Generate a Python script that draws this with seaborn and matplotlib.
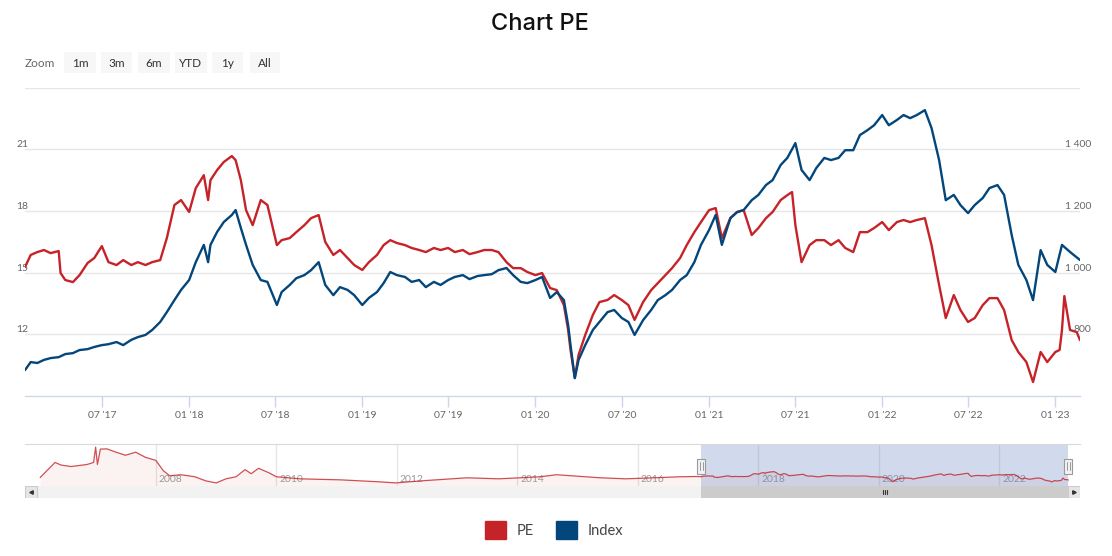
import matplotlib
matplotlib.use("Agg")
import pandas as pd
import seaborn as sns
import matplotlib.pyplot as plt
import matplotlib.dates as mdates
from matplotlib.patches import Rectangle, Patch
from matplotlib.transforms import blended_transform_factory

RED = "#c62329"
BLUE = "#03467b"

# Index (right axis)
index_dates = [
    "2017-01-20", "2017-02-01", "2017-02-15", "2017-03-01", "2017-03-15", "2017-04-01", "2017-04-15",
    "2017-05-01", "2017-05-15", "2017-06-01", "2017-06-15", "2017-07-01", "2017-07-15", "2017-08-01",
    "2017-08-15", "2017-09-01", "2017-09-15", "2017-10-01", "2017-10-15", "2017-11-01", "2017-11-15",
    "2017-12-01", "2017-12-15", "2018-01-01", "2018-01-15", "2018-02-01", "2018-02-10", "2018-02-15",
    "2018-03-01", "2018-03-15", "2018-04-01", "2018-04-09", "2018-04-20", "2018-05-01", "2018-05-15",
    "2018-06-01", "2018-06-15", "2018-07-05", "2018-07-15", "2018-08-01", "2018-08-15", "2018-09-01",
    "2018-09-15", "2018-10-01", "2018-10-15", "2018-11-01", "2018-11-15", "2018-12-01", "2018-12-15",
    "2019-01-01", "2019-01-15", "2019-02-01", "2019-02-15", "2019-03-01", "2019-03-15", "2019-04-01",
    "2019-04-15", "2019-05-01", "2019-05-15", "2019-06-01", "2019-06-15", "2019-07-01", "2019-07-15",
    "2019-08-01", "2019-08-15", "2019-09-01", "2019-09-15", "2019-10-01", "2019-10-15", "2019-11-01",
    "2019-11-15", "2019-12-01", "2019-12-15", "2020-01-01", "2020-01-15", "2020-02-01", "2020-02-15",
    "2020-03-01", "2020-03-10", "2020-03-15", "2020-03-24", "2020-04-01", "2020-04-15", "2020-05-01",
    "2020-05-15", "2020-06-01", "2020-06-15", "2020-07-01", "2020-07-15", "2020-07-28", "2020-08-15",
    "2020-09-01", "2020-09-15", "2020-10-01", "2020-10-15", "2020-11-01", "2020-11-15", "2020-12-01",
    "2020-12-15", "2021-01-01", "2021-01-15", "2021-01-28", "2021-02-15", "2021-03-01", "2021-03-15",
    "2021-04-01", "2021-04-15", "2021-05-01", "2021-05-15", "2021-06-01", "2021-06-15", "2021-07-02",
    "2021-07-15", "2021-08-01", "2021-08-15", "2021-09-01", "2021-09-15", "2021-10-01", "2021-10-15",
    "2021-11-01", "2021-11-15", "2021-12-01", "2021-12-15", "2022-01-01", "2022-01-15", "2022-02-01",
    "2022-02-15", "2022-03-01", "2022-03-15", "2022-04-01", "2022-04-15", "2022-05-01", "2022-05-15",
    "2022-06-01", "2022-06-15", "2022-07-01", "2022-07-15", "2022-08-01", "2022-08-15", "2022-09-01",
    "2022-09-15", "2022-10-01", "2022-10-15", "2022-11-01", "2022-11-15", "2022-12-01", "2022-12-15",
    "2023-01-01", "2023-01-15", "2023-02-01", "2023-02-22",
]
index_values = [
    684, 710, 707, 717, 723, 726, 736, 739, 749, 752, 759, 765, 768, 775,
    765, 782, 791, 798, 814, 840, 872, 911, 944, 976, 1034, 1090, 1034, 1090,
    1132, 1164, 1187, 1203, 1145, 1090, 1025, 976, 970, 895, 937, 960, 982, 992,
    1008, 1034, 960, 927, 953, 944, 927, 895, 918, 937, 966, 1002, 992, 986,
    970, 976, 953, 970, 960, 976, 986, 992, 979, 989, 992, 995, 1008, 1015,
    992, 970, 966, 976, 986, 918, 937, 911, 830, 765, 658, 717, 765, 814,
    840, 872, 879, 853, 840, 798, 846, 879, 911, 927, 944, 976, 992, 1034,
    1090, 1138, 1187, 1090, 1177, 1196, 1203, 1235, 1252, 1284, 1300, 1349, 1372, 1420,
    1333, 1300, 1339, 1372, 1365, 1372, 1397, 1397, 1446, 1462, 1478, 1511, 1478, 1495,
    1511, 1501, 1511, 1527, 1469, 1365, 1235, 1252, 1219, 1193, 1219, 1242, 1274, 1284,
    1252, 1122, 1025, 976, 911, 1073, 1025, 1002, 1090, 1067, 1041,
]

# PE (left axis)
pe_dates = [
    "2017-01-20", "2017-02-01", "2017-02-15", "2017-03-01", "2017-03-15", "2017-04-01", "2017-04-05",
    "2017-04-15", "2017-05-01", "2017-05-15", "2017-06-01", "2017-06-15", "2017-07-01", "2017-07-15",
    "2017-08-01", "2017-08-15", "2017-09-01", "2017-09-15", "2017-10-01", "2017-10-15", "2017-11-01",
    "2017-11-15", "2017-12-01", "2017-12-15", "2018-01-01", "2018-01-15", "2018-02-01", "2018-02-10",
    "2018-02-15", "2018-03-01", "2018-03-15", "2018-04-01", "2018-04-09", "2018-04-20", "2018-05-01",
    "2018-05-15", "2018-06-01", "2018-06-15", "2018-07-05", "2018-07-15", "2018-08-01", "2018-08-15",
    "2018-09-01", "2018-09-15", "2018-10-01", "2018-10-15", "2018-11-01", "2018-11-15", "2018-12-01",
    "2018-12-15", "2019-01-01", "2019-01-15", "2019-02-01", "2019-02-15", "2019-03-01", "2019-03-15",
    "2019-04-01", "2019-04-15", "2019-05-01", "2019-05-15", "2019-06-01", "2019-06-15", "2019-07-01",
    "2019-07-15", "2019-08-01", "2019-08-15", "2019-09-01", "2019-09-15", "2019-10-01", "2019-10-15",
    "2019-11-01", "2019-11-15", "2019-12-01", "2019-12-15", "2020-01-01", "2020-01-15", "2020-02-01",
    "2020-02-15", "2020-03-01", "2020-03-10", "2020-03-15", "2020-03-24", "2020-04-01", "2020-04-15",
    "2020-05-01", "2020-05-15", "2020-06-01", "2020-06-15", "2020-07-01", "2020-07-15", "2020-07-28",
    "2020-08-15", "2020-09-01", "2020-09-15", "2020-10-01", "2020-10-15", "2020-11-01", "2020-11-15",
    "2020-12-01", "2020-12-15", "2021-01-01", "2021-01-15", "2021-01-28", "2021-02-15", "2021-03-01",
    "2021-03-15", "2021-04-01", "2021-04-15", "2021-05-01", "2021-05-15", "2021-06-01", "2021-06-15",
    "2021-06-25", "2021-07-02", "2021-07-15", "2021-08-01", "2021-08-15", "2021-09-01", "2021-09-15",
    "2021-10-01", "2021-10-15", "2021-11-01", "2021-11-15", "2021-12-01", "2021-12-15", "2022-01-01",
    "2022-01-15", "2022-02-01", "2022-02-15", "2022-03-01", "2022-03-15", "2022-04-01", "2022-04-15",
    "2022-05-01", "2022-05-15", "2022-06-01", "2022-06-15", "2022-07-01", "2022-07-15", "2022-08-01",
    "2022-08-15", "2022-09-01", "2022-09-15", "2022-10-01", "2022-10-15", "2022-11-01", "2022-11-15",
    "2022-12-01", "2022-12-15", "2023-01-01", "2023-01-10", "2023-01-15", "2023-01-20", "2023-02-01",
    "2023-02-15", "2023-02-22",
]
pe_values = [
    15.27, 15.86, 16.00, 16.10, 15.95, 16.05, 14.98, 14.64, 14.54, 14.88, 15.47, 15.71, 16.29, 15.51,
    15.37, 15.61, 15.37, 15.51, 15.37, 15.51, 15.61, 16.68, 18.29, 18.53, 17.95, 19.11, 19.74, 18.53,
    19.50, 19.99, 20.38, 20.67, 20.47, 19.50, 18.04, 17.31, 18.53, 18.29, 16.34, 16.58, 16.68, 16.97,
    17.31, 17.65, 17.80, 16.49, 15.86, 16.10, 15.71, 15.37, 15.13, 15.51, 15.86, 16.34, 16.58, 16.44,
    16.34, 16.20, 16.10, 16.00, 16.20, 16.10, 16.20, 16.00, 16.10, 15.90, 16.00, 16.10, 16.10, 16.00,
    15.51, 15.22, 15.22, 15.03, 14.88, 14.98, 14.25, 14.15, 13.42, 12.21, 11.24, 9.88, 11.00, 11.97,
    12.94, 13.57, 13.67, 13.91, 13.67, 13.42, 12.70, 13.57, 14.15, 14.49, 14.88, 15.22, 15.71, 16.34,
    16.97, 17.46, 18.04, 18.14, 16.68, 17.65, 17.95, 18.04, 16.83, 17.17, 17.65, 17.95, 18.53, 18.77,
    18.92, 17.31, 15.51, 16.34, 16.58, 16.58, 16.34, 16.58, 16.20, 16.00, 16.97, 16.97, 17.17, 17.46,
    17.07, 17.46, 17.56, 17.46, 17.56, 17.65, 16.34, 14.40, 12.79, 13.91, 13.18, 12.60, 12.79, 13.42,
    13.76, 13.76, 13.18, 11.72, 11.14, 10.65, 9.68, 11.14, 10.65, 11.14, 11.24, 12.21, 13.86, 12.21,
    12.11, 11.72,
]

# longer PE history, only shown in the navigator
hist_pe_dates = [
    "2006-01-30", "2006-04-30", "2006-06-05", "2006-08-05", "2006-11-10", "2006-12-20", "2007-01-01",
    "2007-01-12", "2007-01-30", "2007-03-10", "2007-05-05", "2007-07-01", "2007-09-01", "2007-10-30",
    "2008-01-01", "2008-02-15", "2008-03-25", "2008-06-01", "2008-08-25", "2008-10-30", "2009-01-01",
    "2009-03-01", "2009-05-01", "2009-06-25", "2009-08-01", "2009-09-15", "2009-11-15", "2010-01-01",
    "2010-05-25", "2011-01-25", "2011-09-25", "2011-12-25", "2012-05-25", "2013-03-01", "2013-09-10",
    "2014-05-20", "2014-08-25", "2015-05-20", "2015-10-20", "2016-09-10", "2016-12-20",
]
hist_pe_values = [
    14.4, 30.6, 27.8, 26.2, 28.4, 30.6, 47.0, 28.4, 44.9, 45.2, 41.6, 38.3, 41.6, 36.1,
    32.8, 21.8, 16.3, 17.4, 15.2, 10.8, 8.6, 13.0, 15.2, 22.9, 18.5, 24.3, 19.6, 15.2,
    13.0, 11.9, 9.7, 8.6, 10.8, 14.1, 13.0, 15.2, 17.4, 14.1, 13.0, 15.2, 15.5,
]

pe_ticks = [12, 15, 18, 21, 24]
index_ticks = [800, 1000, 1200, 1400, 1600]
nav_years = [2008, 2010, 2012, 2014, 2016, 2018, 2020, 2022]
zoom_buttons = ["1m", "3m", "6m", "YTD", "1y", "All"]

pe_df = pd.DataFrame({"date": pd.to_datetime(pe_dates), "PE": pe_values})
idx_df = pd.DataFrame({"date": pd.to_datetime(index_dates), "Index": index_values})
nav_df = pd.DataFrame({"date": pd.to_datetime(hist_pe_dates + pe_dates),
                       "PE": hist_pe_values + pe_values})

sns.set_style("white")
plt.rcParams["font.family"] = ["Lato", "DejaVu Sans"]

W, H = 1112, 556
fig = plt.figure(figsize=(W / 100, H / 100), dpi=100)


def box(x0, y0, x1, y1):
    # pixel box (top-left origin) -> figure fraction
    return [x0 / W, 1 - y1 / H, (x1 - x0) / W, (y1 - y0) / H]


start, end = pe_df["date"].iloc[0], pe_df["date"].iloc[-1]

# ---- main chart ----
ax = fig.add_axes(box(25, 87.6, 1080, 396))
ax2 = ax.twinx()
sns.lineplot(data=pe_df, x="date", y="PE", ax=ax, color=RED, linewidth=1.7, zorder=3)
sns.lineplot(data=idx_df, x="date", y="Index", ax=ax2, color=BLUE, linewidth=1.7, zorder=3)
ax.set_ylim(9, 24)
ax2.set_ylim(600, 1600)
ax.set_xlim(start, end)
for a in (ax, ax2):
    a.set_xlabel("")
    a.set_ylabel("")
    a.set_yticks([])
    for s in ("left", "right", "top"):
        a.spines[s].set_visible(False)
    a.spines["bottom"].set_color("#ccd6eb")
for v in pe_ticks:
    ax.axhline(v, color="#e6e6e6", linewidth=1, zorder=0)

lt = blended_transform_factory(ax.transAxes, ax.transData)
rt = blended_transform_factory(ax.transAxes, ax2.transData)
for v in pe_ticks[:-1]:
    ax.text(-9 / 1055, v, f"{v}", transform=lt, ha="left", va="bottom", fontsize=7.5,
            color="#666666", zorder=1, clip_on=False)
for v in index_ticks[:-1]:
    ax.text(1 + 11 / 1055, v, f"{v:,}".replace(",", " "), transform=rt, ha="right",
            va="bottom", fontsize=7.5, color="#666666", zorder=1, clip_on=False)

ax.xaxis.set_major_locator(mdates.MonthLocator(bymonth=[1, 7]))
ax.xaxis.set_major_formatter(mdates.DateFormatter("%m '%y"))
ax.tick_params(axis="x", direction="out", length=8, width=1, color="#ccd6eb",
               labelsize=7.5, labelcolor="#666666", pad=2.5, bottom=True)
ax2.tick_params(axis="x", bottom=False, labelbottom=False)

# ---- title and range selector ----
fig.text(540 / W, 1 - 24 / H, "Chart PE", ha="center", va="center", fontsize=17,
         family=["Inter", "DejaVu Sans"], weight="medium", color="#111111")
fig.text(25 / W, 1 - 63.5 / H, "Zoom", ha="left", va="center", fontsize=8.5, color="#666666")
btn_x = [64, 101, 138, 175, 212, 250]
btn_w = [32, 31, 32, 32, 31, 30]
for label, bx, bw in zip(zoom_buttons, btn_x, btn_w):
    fig.patches.append(Rectangle((bx / W, 1 - 73 / H), bw / W, 21 / H, transform=fig.transFigure,
                                 facecolor="#f7f7f7", edgecolor="none"))
    fig.text((bx + bw / 2) / W, 1 - 63.5 / H, label, ha="center", va="center",
             fontsize=8.5, color="#333333")

# ---- navigator ----
nav = fig.add_axes(box(25, 444, 1080, 486))
nav_lo, nav_hi = 5.3, 50.4
nav.fill_between(nav_df["date"], nav_df["PE"], nav_lo, color=RED, alpha=0.06, lw=0)
sns.lineplot(data=nav_df, x="date", y="PE", ax=nav, color=RED, linewidth=0.9, alpha=0.8, zorder=3)
nav.set_xlim(pd.Timestamp("2005-10-30"), pd.Timestamp("2023-05-04"))
nav.set_ylim(nav_lo, nav_hi)
nav.set_xlabel("")
nav.set_ylabel("")
nav.set_xticks([])
nav.set_yticks([])
for s in ("left", "right", "bottom"):
    nav.spines[s].set_visible(False)
nav.spines["top"].set_color("#d9d9d9")
nt = blended_transform_factory(nav.transData, nav.transAxes)
for yr in nav_years:
    d = pd.Timestamp(f"{yr}-01-01")
    nav.axvline(d, color="#e6e6e6", linewidth=1, zorder=0)
    nav.text(d + pd.Timedelta(days=18), 0.16, str(yr), transform=nt, ha="left", va="center",
             fontsize=7.5, color="#999999", zorder=1)
nav.axvspan(start, end, color=(102 / 255, 133 / 255, 194 / 255, 0.3), lw=0, zorder=2)
for d in (start, end):
    nav.add_patch(Rectangle((d - pd.Timedelta(days=24), 0.28), pd.Timedelta(days=48), 0.37,
                            transform=nt, facecolor="#f2f2f2", edgecolor="#999999",
                            linewidth=0.8, zorder=5))
    for off in (-8, 8):
        nav.plot([d + pd.Timedelta(days=off)] * 2, [0.37, 0.56], transform=nt,
                 color="#999999", linewidth=0.7, zorder=6)

# ---- scrollbar ----
sb = fig.add_axes(box(25, 486, 1080, 498))
sb.set_facecolor("#f2f2f2")
sb.set_xlim(nav.get_xlim())
sb.set_ylim(0, 1)
sb.axvspan(start, end, color="#cccccc", lw=0)
sb.set_xticks([])
sb.set_yticks([])
for s in sb.spines.values():
    s.set_visible(False)
mid = start + (end - start) / 2
for off in (-12, 0, 12):
    sb.plot([mid + pd.Timedelta(days=off)] * 2, [0.3, 0.7], color="#333333", linewidth=0.8)
for x0, mk in ((0, "<"), (1 - 12 / 1055, ">")):
    sb.add_patch(Rectangle((x0, 0), 12 / 1055, 1, transform=sb.transAxes,
                           facecolor="#e6e6e6", edgecolor="#cccccc", linewidth=0.8))
    sb.plot([x0 + 6 / 1055], [0.5], marker=mk, markersize=2.5, color="#333333",
            transform=sb.transAxes)

# ---- legend ----
handles = [Patch(color=RED, label="PE"), Patch(color=BLUE, label="Index")]
fig.legend(handles=handles, loc="center", bbox_to_anchor=(554 / W, 1 - 530 / H), ncol=2,
           frameon=False, fontsize=10.5, handlelength=1.45, handleheight=1.45,
           handletextpad=0.7, columnspacing=1.5, labelcolor="#444444")

fig.savefig("out.png", dpi=100)
